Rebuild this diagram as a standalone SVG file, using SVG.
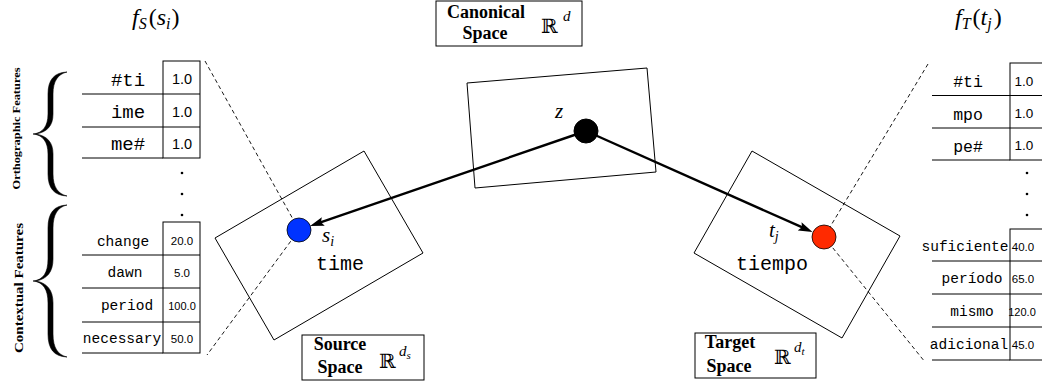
<svg xmlns="http://www.w3.org/2000/svg" width="1042" height="383" viewBox="0 0 1042 383">
<style>
.ln{stroke:#000;stroke-width:1;fill:none}
.box{stroke:#000;stroke-width:1;fill:#fff}
.dash{stroke:#000;stroke-width:0.9;stroke-dasharray:4,3;fill:none}
.mono{font-family:"Liberation Mono","Courier New",monospace;fill:#000;text-anchor:middle}
.val{font-family:"Liberation Sans",Arial,sans-serif;fill:#000;text-anchor:middle}
.bold{font-family:"Liberation Serif","Times New Roman",serif;font-weight:bold;fill:#000;text-anchor:middle}
.math{font-family:"Liberation Serif","Times New Roman",serif;font-style:italic;fill:#000}
.bb{font-family:"DejaVu Serif","DejaVu Sans",serif;fill:#000}
.brace{fill:#000;stroke:#000;stroke-width:0.6}
.arrow{stroke:#000;stroke-width:2.4;fill:none}
</style>
<defs>
<marker id="ah" markerUnits="userSpaceOnUse" markerWidth="15" markerHeight="10" refX="6" refY="5" orient="auto">
<path d="M0,0.5 L14,5 L0,9.5 L2.5,5 Z" fill="#000"/>
</marker>
</defs>

<!-- space rectangles -->
<g id="canonical-space-plane"><polygon class="ln" points="467,83 647,68 656,172 475,188"/></g>
<g id="source-space-plane"><polygon class="ln" points="215,238 364,151 423,253 274,340"/></g>
<g id="target-space-plane"><polygon class="ln" points="752,151 900,236 842,338 694,253"/></g>

<!-- projection dashed lines -->
<g id="projections">
<line class="dash" x1="205" y1="61" x2="299" y2="230"/>
<line class="dash" x1="299" y1="230" x2="207" y2="355"/>
<line class="dash" x1="928" y1="64" x2="824" y2="237"/>
<line class="dash" x1="824" y1="237" x2="925" y2="362"/>
</g>

<!-- connectors -->
<g id="connectors">
<line class="arrow" x1="586" y1="131" x2="317.6" y2="223.4" marker-end="url(#ah)"/>
<line class="arrow" x1="586" y1="131" x2="805.2" y2="228.7" marker-end="url(#ah)"/>
</g>

<!-- nodes -->
<g id="node-z">
<circle cx="586" cy="131" r="12" fill="#000" stroke="#000"/>
<text class="math" x="555" y="118" font-size="21">z</text>
</g>
<g id="node-s">
<circle cx="299" cy="230" r="12" fill="#0033ff" stroke="#000" stroke-width="0.8"/>
<text class="math" x="322" y="242" font-size="21">s<tspan font-size="14" dy="4">i</tspan></text>
<text class="mono" x="340" y="270" font-size="20">time</text>
</g>
<g id="node-t">
<circle cx="824" cy="237" r="12" fill="#ff2a00" stroke="#000" stroke-width="0.8"/>
<text class="math" x="769" y="237" font-size="21">t<tspan font-size="14" dy="4">j</tspan></text>
<text class="mono" x="772" y="270" font-size="20">tiempo</text>
</g>

<!-- space labels -->
<g id="label-canonical">
<rect class="box" x="436" y="1" width="146" height="45"/>
<text class="bold" x="486" y="18" font-size="18">Canonical</text>
<text class="bold" x="485" y="39" font-size="18">Space</text>
<text class="bb" x="541" y="33" font-size="20">ℝ</text>
<text class="math" x="563" y="21" font-size="15">d</text>
</g>
<g id="label-source">
<rect class="box" x="302" y="335" width="122" height="45"/>
<text class="bold" x="340" y="350" font-size="18">Source</text>
<text class="bold" x="340" y="373" font-size="18">Space</text>
<text class="bb" x="379" y="368" font-size="20">ℝ</text>
<text class="math" x="399" y="356" font-size="15">d<tspan font-size="11" dy="3">s</tspan></text>
</g>
<g id="label-target">
<rect class="box" x="695" y="333" width="121" height="45"/>
<text class="bold" x="730" y="348" font-size="18">Target</text>
<text class="bold" x="729" y="372" font-size="18">Space</text>
<text class="bb" x="774" y="364" font-size="20">ℝ</text>
<text class="math" x="794" y="352" font-size="15">d<tspan font-size="11" dy="3">t</tspan></text>
</g>

<!-- feature function titles -->
<g id="title-fs"><text class="math" x="132" y="25" font-size="24">f<tspan font-size="16" dy="4">S</tspan><tspan dy="-4" dx="2" font-style="normal">(</tspan><tspan>s</tspan><tspan font-size="16" dy="4">i</tspan><tspan dy="-4" dx="1" font-style="normal">)</tspan></text></g>
<g id="title-ft"><text class="math" x="955" y="25" font-size="24">f<tspan font-size="16" dy="4">T</tspan><tspan dy="-4" dx="2" font-style="normal">(</tspan><tspan>t</tspan><tspan font-size="16" dy="4">j</tspan><tspan dy="-4" dx="2" font-style="normal">)</tspan></text></g>

<!-- braces and side labels -->
<g id="brace-orthographic">
<path class="brace" d="M67,72 C54,72.5 48,80 48,94 L48,114 C48,126 43,133 33,134 C43,135 48,142 48,154 L48,174 C48,188 54,195.5 67,196 C58,194 53,187 53,174 L53,154 C53,142 47,136 36,134 C47,132 53,126 53,114 L53,94 C53,81 58,74 67,72 Z"/>
<text class="bold" transform="translate(20,128.5) rotate(-90)" font-size="11" textLength="122" lengthAdjust="spacingAndGlyphs">Orthographic Features</text>
</g>
<g id="brace-contextual">
<path class="brace" d="M67,205 C54,205.5 48,213 48,228 L48,259 C48,273 43,280 33,281 C43,282 48,289 48,303 L48,334 C48,349 54,356.5 67,357 C58,355 53,348 53,334 L53,303 C53,290 47,283 36,281 C47,279 53,272 53,259 L53,228 C53,214 58,207 67,205 Z"/>
<text class="bold" transform="translate(23,288) rotate(-90)" font-size="13.5" textLength="130" lengthAdjust="spacingAndGlyphs">Contextual Features</text>
</g>

<!-- left feature table -->
<g id="table-source-orthographic">
<rect class="ln" x="163" y="61" width="37" height="97"/>
<line class="ln" x1="82" y1="94" x2="200" y2="94"/>
<line class="ln" x1="82" y1="127" x2="200" y2="127"/>
<line class="ln" x1="82" y1="158" x2="163" y2="158"/>
<text class="mono" x="128" y="86" font-size="19">#ti</text>
<text class="mono" x="128" y="118" font-size="19">ime</text>
<text class="mono" x="128" y="150" font-size="19">me#</text>
<text class="val" x="182" y="84" font-size="14.5">1.0</text>
<text class="val" x="182" y="117" font-size="14.5">1.0</text>
<text class="val" x="182" y="149" font-size="14.5">1.0</text>
<circle cx="182" cy="173" r="1.3"/><circle cx="182" cy="194" r="1.3"/><circle cx="182" cy="215" r="1.3"/>
</g>
<g id="table-source-contextual">
<rect class="ln" x="163" y="222" width="37" height="131"/>
<line class="ln" x1="82" y1="255" x2="200" y2="255"/>
<line class="ln" x1="82" y1="288" x2="200" y2="288"/>
<line class="ln" x1="82" y1="322" x2="200" y2="322"/>
<line class="ln" x1="82" y1="353" x2="163" y2="353"/>
<text class="mono" x="123" y="246" font-size="14.5">change</text>
<text class="mono" x="125" y="277" font-size="14.5">dawn</text>
<text class="mono" x="127" y="310" font-size="14.5">period</text>
<text class="mono" x="122" y="343" font-size="14.5">necessary</text>
<text class="val" x="182" y="245" font-size="11.5">20.0</text>
<text class="val" x="182" y="277" font-size="11.5">5.0</text>
<text class="val" x="182" y="310" font-size="11">100.0</text>
<text class="val" x="182" y="343" font-size="11.5">50.0</text>
</g>

<!-- right feature table -->
<g id="table-target-orthographic">
<rect class="ln" x="1010" y="63" width="40" height="97"/>
<line class="ln" x1="932" y1="95.5" x2="1050" y2="95.5"/>
<line class="ln" x1="932" y1="128" x2="1050" y2="128"/>
<line class="ln" x1="932" y1="160" x2="1010" y2="160"/>
<text class="mono" x="968" y="87" font-size="16.5">#ti</text>
<text class="mono" x="968" y="120" font-size="16.5">mpo</text>
<text class="mono" x="968" y="152" font-size="16.5">pe#</text>
<text class="val" x="1024" y="86" font-size="13.5">1.0</text>
<text class="val" x="1024" y="118" font-size="13.5">1.0</text>
<text class="val" x="1024" y="150" font-size="13.5">1.0</text>
<circle cx="1027" cy="173" r="1.3"/><circle cx="1027" cy="194" r="1.3"/><circle cx="1027" cy="215" r="1.3"/>
</g>
<g id="table-target-contextual">
<rect class="ln" x="1010" y="229" width="40" height="131"/>
<line class="ln" x1="932" y1="261" x2="1050" y2="261"/>
<line class="ln" x1="932" y1="294" x2="1050" y2="294"/>
<line class="ln" x1="932" y1="327" x2="1050" y2="327"/>
<line class="ln" x1="932" y1="360" x2="1010" y2="360"/>
<text class="mono" x="965" y="251" font-size="14.5">suficiente</text>
<text class="mono" x="972" y="283" font-size="14.5">período</text>
<text class="mono" x="972" y="316" font-size="14.5">mismo</text>
<text class="mono" x="969" y="349" font-size="14.5">adicional</text>
<text class="val" x="1023" y="251" font-size="11.5">40.0</text>
<text class="val" x="1023" y="283" font-size="11.5">65.0</text>
<text class="val" x="1022" y="316" font-size="11">120.0</text>
<text class="val" x="1023" y="349" font-size="11.5">45.0</text>
</g>
</svg>
